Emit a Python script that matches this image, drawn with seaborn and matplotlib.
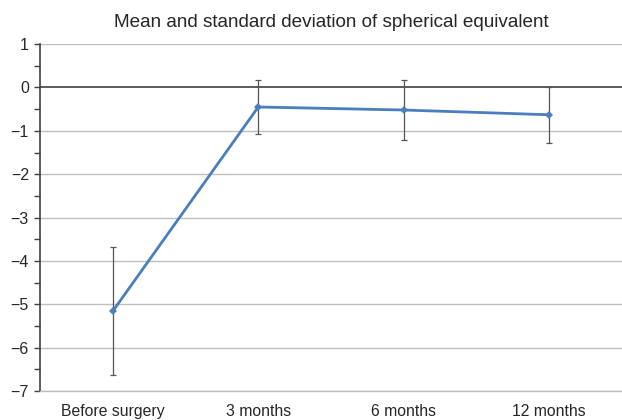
import matplotlib
matplotlib.use("Agg")
import matplotlib.pyplot as plt
import seaborn as sns
import pandas as pd
import numpy as np

categories = ["Before surgery", "3 months", "6 months", "12 months"]
means = [-5.16, -0.45, -0.52, -0.63]
sds = [1.48, 0.63, 0.70, 0.64]
yticks = [1, 0, -1, -2, -3, -4, -5, -6, -7]
ytick_labels = ["1", "0", "\u22121", "\u22122", "\u22123", "\u22124", "\u22125", "\u22126", "\u22127"]
title = "Mean and standard deviation of spherical equivalent"

sns.set_style("white")
plt.rcParams['font.family'] = ['Liberation Sans', 'DejaVu Sans']

df = pd.DataFrame({"pos": np.arange(len(categories)), "mean": means, "sd": sds})

fig = plt.figure(figsize=(6.22, 4.2), dpi=100)
ax = fig.add_axes([0.0643, 0.069, 0.9357, 0.826])

for t in yticks:
    if t == 0:
        continue
    ax.axhline(t, color="#bfbfbf", lw=1.0, zorder=0)
ax.axhline(0, color="#404040", lw=1.2, zorder=1)

ax.errorbar(df["pos"], df["mean"], yerr=df["sd"], fmt="none", ecolor="#555555",
            elinewidth=0.9, capsize=2.5, capthick=0.9, zorder=2)
sns.lineplot(data=df, x="pos", y="mean", ax=ax, color="#4a7ebf", lw=2.0,
             marker="D", markersize=4, markeredgewidth=0, zorder=3)

ax.set_xlim(-0.5, 3.5)
ax.set_ylim(-7, 1)
ax.set_xticks(df["pos"])
ax.set_xticklabels(categories, fontsize=11.3)
ax.set_yticks(yticks)
ax.set_yticklabels(ytick_labels, fontsize=11.5)
ax.set_yticks(np.arange(-6.5, 1, 1.0), minor=True)
ax.tick_params(axis="y", which="both", direction="out", length=4, width=1, color="#404040", left=True, pad=4)
ax.tick_params(axis="x", length=0, pad=9)
ax.set_xlabel("")
ax.set_ylabel("")
ax.set_title(title, fontsize=13.6, pad=12)

for s in ["top", "right"]:
    ax.spines[s].set_visible(False)
ax.spines["left"].set_color("#404040")
ax.spines["left"].set_linewidth(1.2)
ax.spines["bottom"].set_color("#bfbfbf")
ax.spines["bottom"].set_linewidth(1.0)

fig.savefig("out.png", dpi=100)
